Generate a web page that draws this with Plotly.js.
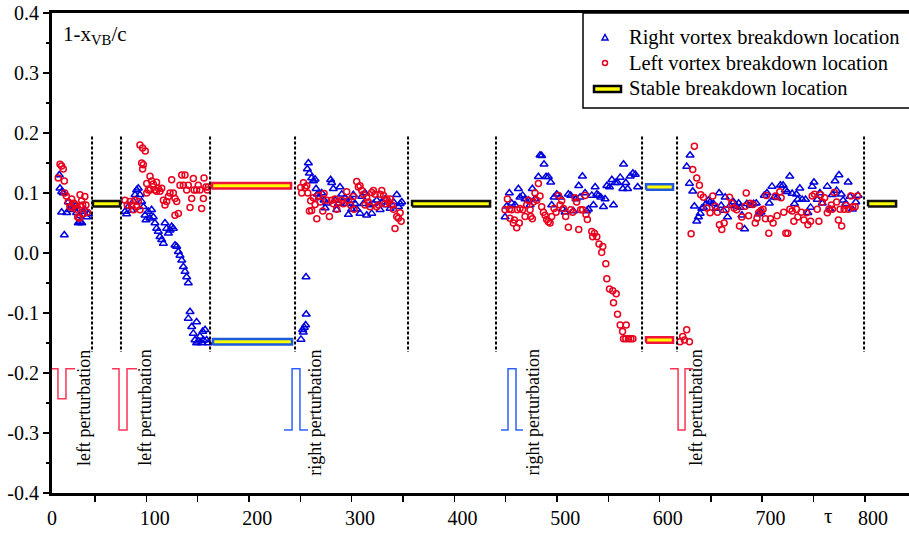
<!DOCTYPE html>
<html><head><meta charset="utf-8">
<script src="https://cdn.plot.ly/plotly-3.0.1.min.js"></script>
<style>body{margin:0;background:#fff}#chart{width:909px;height:533px}</style>
</head><body><div id="chart"></div>
<script>
// ---------- axis labels ----------
const xTickVals = [0,100,200,300,400,500,600,700,800];
const xTickText = ['0','100','200','300','400','500','600','700','800'];
const xMarkVals = [42,92,142,192,242,292,342,392,442,492,542,592,642,692,742,792];
const yTickVals = [-0.4,-0.3,-0.2,-0.1,0,0.1,0.2,0.3,0.4];
const yTickText = ['-0.4','-0.3','-0.2','-0.1','0.0','0.1','0.2','0.3','0.4'];
const legendNames = ['Right vortex breakdown location','Left vortex breakdown location','Stable breakdown location'];

// ---------- right vortex breakdown location (triangles) ----------
const rightT = [
 7.1,7.8,9.4,11,9.4,12,14.3,15.9,17.5,18.5,20.8,22.7,24,25.6,27,27.3,29,30.7,32,33.8,35.5,
 71.1,72.7,74.4,77.6,79.3,80.9,82.5,84.1,85.7,87.3,89,90.6,91.6,93.8,95.4,97,98.7,100.3,102,103.6,105.2,106.9,108.5,
 110.1,111.7,113.4,115,116.6,118.2,119.8,121.5,123.1,124.7,126.4,128,129.6,131.2,132.8,134.5,132.8,136.1,137.7,139.3,
 140.9,140.9,142.5,144.2,145.8,146.8,147.5,149.1,150.7,152.3,
 242.6,244.2,244.8,245.8,247.1,247.7,247.5,248.8,249.8,250.8,253,254.7,256.3,257.3,258.6,260.2,262.8,265.1,266.1,267.7,
 271.5,272.5,274.1,275.8,277.4,279,280.6,282.3,285.5,287.1,288.8,292,292,293.6,295.3,296.9,300.1,301.8,303.4,305,306.6,
 309.9,311.5,313.2,316.4,319.7,321.3,324.6,326.2,329.4,332.7,335.9,337.6,339.2,340.8,
 441.4,443,445.6,447.9,451.1,454.4,456,458.6,460.9,464.1,465.8,468,470.6,473.9,475.5,477.1,479.4,481.4,483.6,485.9,
 486.9,489.2,491.8,495,497.6,499.9,503.1,505.4,508,510.6,513.2,514.5,516.8,519.4,521,522.6,525.9,527.5,529.2,530.8,
 532.4,534.7,537.3,538.9,540.6,543.2,545.5,547.1,548.8,551,553.6,556.9,556.2,559.1,560.8,563.4,566,568.3,570.6,
 618.4,621.7,621.1,624.3,625.9,628.2,629.9,631.5,633.1,634.7,637.3,639.6,641.2,644.5,647.1,650,652,654.3,655.9,658.2,
 660.8,664,667.3,669,670.6,672.2,674.8,677.1,680.3,683.6,686.2,688.5,690.8,694,696.6,698.9,701.5,703.8,706.4,709.7,
 712.3,714.6,716.2,718.8,721.1,723.4,725.3,726.6,728.6,730.9,734.2,736.5,739.1,740.7,742.4,745.6,748.2,750.5,755.4,
 758,760.3,762.9,764.5,766.8,769.1,770.8,773.4,775.7,777.6,779.9,783.2,785.4
];
const rightY = [
 .130,.108,.102,.100,.068,.030,.067,.085,.072,.080,.075,.078,.067,.050,.062,.052,.050,.069,.072,.060,.065,
 .069,.065,.077,.071,.086,.097,.105,.108,.097,.086,.077,.063,.055,.069,.058,.072,.060,.050,.041,.036,.027,.022,.016,
 .050,.041,.033,.038,.044,.041,.013,.011,.002,-.004,-.012,-.023,-.031,-.040,-.050,-.098,-.109,-.123,-.134,-.145,
 -.150,-.115,-.147,-.139,-.150,-.131,-.145,-.128,-.145,-.150,
 -.144,-.128,-.132,-.124,-.120,-.102,-.040,.140,.150,.133,.125,.120,.123,.107,.098,.092,.100,.088,.075,.083,
 .122,.117,.107,.088,.072,.082,.110,.098,.092,.082,.064,.088,.073,.097,.082,.073,.066,.094,.082,.100,.063,
 .080,.066,.082,.088,.072,.085,.090,.080,.074,.085,.097,.077,.082,.085,
 .060,.078,.100,.083,.080,.107,.093,.096,.090,.088,.080,.107,.090,.127,.163,.162,.148,.127,.127,.118,
 .080,.093,.098,.093,.073,.068,.098,.096,.070,.090,.112,.093,.128,.100,.070,.073,.096,.080,.110,.098,
 .096,.093,.077,.090,.112,.110,.122,.080,.117,.117,.126,.148,.107,.117,.107,.128,.133,.131,.110,
 .144,.163,.116,.103,.078,.053,.060,.066,.074,.076,.082,.088,.085,.082,.074,.100,.079,.071,.093,.060,
 .079,.085,.077,.083,.076,.063,.040,.082,.079,.082,.083,.065,.068,.096,.100,.083,.111,.093,.092,.113,
 .113,.105,.102,.128,.099,.082,.098,.089,.108,.089,.089,.067,.076,.111,.118,.089,.100,.083,.111,
 .073,.097,.120,.104,.130,.098,.088,.082,.118,.094,.073,.085,.096
];

// ---------- left vortex breakdown location (circles) ----------
const leftT = [
 6.1,7.8,9.4,11,12,12.4,14,15.9,17.5,19.2,20.1,21.4,22.4,24,25,26.6,27.3,27.9,28.9,29.9,30.6,32,33,34.5,
 71.1,73.4,76,77.6,79.3,80.9,82.5,84.1,85.7,85.7,88.3,90.9,87.4,89,88.3,92.3,93.9,95.5,97.1,98.7,100.3,101.9,103.6,
 105.2,106.9,108.5,110.1,111.7,113.4,115,116.6,118.2,119.8,121.5,119.8,123.1,124.7,126.4,129.6,128,131.2,132.8,134.5,
 136.1,137.7,138.4,140.9,142.5,144.2,145.8,147.5,148.1,150,151.3,152.3,95.5,92.3,101.9,
 242.3,243.3,245,246.6,248.2,249.2,250.8,253,252,254.7,256.3,258,259.6,261.2,263.8,265.1,267.7,270.3,272.5,274.1,
 275.8,277.4,279,282.3,283.9,287.1,288.8,291,293.6,294.3,296.9,298.5,300.1,301.8,303.4,305,306.6,308.2,309.9,311.5,
 313.2,314.8,316.4,318.1,319.7,321.3,323,324.6,326.2,327.9,329.5,331.1,332.7,334.2,335.9,337.5,339.2,340.2,
 441.4,443.7,445.6,446.2,447.9,449.5,450.5,452.8,453.4,455.3,456,458.6,460.9,462.5,464.1,465.8,466.4,468,469,470.6,
 472.3,473.9,475.5,477.1,478.8,480.4,482,483.6,485.3,486.9,489.2,491.1,493.4,495,496.6,498.3,500.5,503.1,505.4,507.3,
 509.6,511.2,513.2,515.1,517.1,519.4,520.3,521.6,525.9,526.8,528.5,530.8,533,536.6,535.6,539.6,540.6,543.2,546.4,549.7,
 547.1,551,553.6,559.5,555.9,556.9,559.1,561.7,564,566,
 611.9,614.5,618.4,616.2,621.1,
 625.9,624.3,628.2,630.8,622.7,632.1,634.7,638,641.2,643.8,646.2,648.4,650.3,652.6,654.9,656.8,660.1,662.3,664.6,667.2,
 669.8,672.1,675.4,676.4,678.7,680.3,683,685.2,686.9,688.5,690.8,692.8,695.1,696.1,698.4,700,702.6,704.9,706.5,709.1,
 710.4,713,715,716.9,718.9,721.2,722.8,725.4,726.7,730,732.6,735.2,736.5,739.1,740.7,743,745.6,747.2,748.9,750.5,
 752.8,755.4,757,759.3,760.3,762.2,764.5,766.2,767.8,769.4,771.8,773.7,776,778.3,780.2,782.5,784.8
];
const leftY = [
 .125,.148,.145,.140,.120,.100,.095,.085,.077,.090,.075,.083,.080,.073,.060,.058,.097,.078,.087,.080,.066,.094,.080,.068,
 .088,.080,.086,.079,.072,.088,.077,.086,.072,.180,.175,.170,.150,.147,.140,.116,.105,.128,.120,.115,.105,.103,.108,
 .103,.108,.088,.080,.086,.094,.100,.122,.100,.091,.086,.063,.066,.113,.130,.130,.113,.105,.113,.076,
 .091,.124,.105,.105,.113,.105,.074,.091,.125,.110,.105,.110,.105,.100,.118,
 .109,.100,.117,.109,.112,.100,.070,.071,.087,.092,.081,.057,.096,.085,.070,.099,.088,.061,.088,.082,
 .090,.073,.085,.088,.082,.102,.088,.080,.094,.073,.119,.110,.112,.104,.098,.080,.092,.085,.077,.101,
 .104,.098,.077,.080,.098,.104,.096,.082,.090,.085,.090,.080,.073,.041,.061,.058,.067,.053,
 .072,.090,.073,.058,.072,.050,.055,.042,.072,.050,.074,.072,.061,.080,.088,.072,.061,.057,.085,.100,
 .088,.116,.095,.077,.068,.063,.056,.052,.050,.061,.074,.068,.096,.080,.087,.074,.061,.043,.072,.068,
 .092,.085,.039,.072,.072,.096,.064,.056,.036,.027,.033,.027,.015,.011,.001,-.018,-.043,-.060,-.063,-.068,
 -.083,-.102,-.120,-.120,-.131,-.143,-.143,-.143,-.143,-.143,
 -.148,-.139,-.128,-.145,-.148,
 .178,.139,.125,.113,.032,.097,.093,.075,.067,.095,.078,.068,.047,.039,.050,.072,.093,.083,.075,.072,
 .045,.060,.078,.100,.062,.083,.081,.050,.058,.067,.071,.073,.057,.096,.033,.057,.050,.095,.062,.102,
 .092,.068,.033,.033,.073,.070,.053,.073,.060,.068,.055,.067,.047,.053,.095,.098,.073,.053,.097,.085,
 .092,.067,.073,.080,.073,.101,.085,.055,.073,.045,.073,.079,.073,.095,.077,.077,.095
];

// ---------- stable breakdown locations ----------
const stableStart = [39.9, 155.9, 156.9, 350.8, 578.8, 578.8, 795.1];
const stableEnd   = [66.3, 232.9, 233.9, 426.8, 605.1, 605.1, 822.4];
const stableY     = [0.082, 0.112, -0.148, 0.082, 0.110, -0.145, 0.082];
const stableSide  = ['both','left','right','both','right','left','both'];

// ---------- phase boundaries (vertical dotted lines) ----------
const boundaryT = [39.0, 67.2, 154.0, 236.8, 346.9, 432.6, 574.9, 609.0, 791.2];
const boundaryTop = 0.194, boundaryBottom = -0.165;

// ---------- perturbation pulses ----------
const leftPulseT  = [0,5.8,5.8,13.6,13.6,22.4, null, 58.5,65.3,65.3,73.1,73.1,82.8, null, 602.2,610,610,616.8,616.8,624.6];
const leftPulseY  = [-0.193,-0.193,-0.243,-0.243,-0.193,-0.193, null, -0.193,-0.193,-0.295,-0.295,-0.193,-0.193, null, -0.193,-0.193,-0.295,-0.295,-0.193,-0.193];
const rightPulseT = [226,233.9,233.9,241.6,241.6,249.4, null, 437.5,444.3,444.3,452.1,452.1,458.9];
const rightPulseY = [-0.295,-0.295,-0.193,-0.193,-0.295,-0.295, null, -0.295,-0.295,-0.193,-0.193,-0.295,-0.295];
const perturbLabelT = [30.5, 90.6, 256.3, 468.4, 627.5];
const perturbLabelText = ['left perturbation','left perturbation','right perturbation','right perturbation','left perturbation'];
const perturbLabelTopY = -0.158;

// ---------- drawing ----------
const FONT = 'Liberation Serif, Times New Roman, serif';
const BLUE = '#0000dd', RED = '#e8001c', YELLOW = '#ffff00';
const sideColor = {both:'#111111', left:'#f0143c', right:'#1e5adc'};
const halfH = 0.0046;

const traces = [];
traces.push({
  x: rightT, y: rightY, type:'scatter', mode:'markers', name:legendNames[0], showlegend:false,
  marker:{symbol:'triangle-up-open', size:7, color:BLUE, line:{width:1.5, color:BLUE}}
});
traces.push({
  x: leftT, y: leftY, type:'scatter', mode:'markers', name:legendNames[1], showlegend:false,
  marker:{symbol:'circle-open', size:6, color:RED, line:{width:1.5, color:RED}}
});
const bx = [], by = [];
boundaryT.forEach(t => { bx.push(t, t, null); by.push(boundaryTop, boundaryBottom, null); });
traces.push({x:bx, y:by, type:'scatter', mode:'lines', showlegend:false,
  line:{color:'#000', width:2, dash:'3px,2px'}});
for (let i = 0; i < stableStart.length; i++) {
  const s = stableStart[i], e = stableEnd[i], y = stableY[i];
  traces.push({
    x:[s,e,e,s,s], y:[y-halfH,y-halfH,y+halfH,y+halfH,y-halfH], name:legendNames[2],
    type:'scatter', mode:'lines', fill:'toself', fillcolor:YELLOW, showlegend:false,
    line:{color: sideColor[stableSide[i]], width:2.5}
  });
}
traces.push({x:leftPulseT, y:leftPulseY, type:'scatter', mode:'lines', showlegend:false,
  line:{color:'#ff3355', width:1.5}});
traces.push({x:rightPulseT, y:rightPulseY, type:'scatter', mode:'lines', showlegend:false,
  line:{color:'#2f5fff', width:1.5}});

// helpers: pixel position -> paper fraction (plot area 52..909 x 13..493)
const PX = p => (p - 52) / 857;
const PY = p => (493 - p) / 480;

const annotations = perturbLabelT.map((t, i) => ({
  x:t, y:perturbLabelTopY, xref:'x', yref:'y', text:perturbLabelText[i], textangle:-90,
  showarrow:false, xanchor:'center', yanchor:'top', font:{family:FONT, size:18, color:'#000'}
}));
annotations.push({x:PX(61), y:PY(35), xref:'paper', yref:'paper', xanchor:'left', yanchor:'middle',
  text:'1-x<sub>VB</sub>/c', showarrow:false, font:{family:FONT, size:21, color:'#000'}});
annotations.push({x:PX(828), y:PY(516), xref:'paper', yref:'paper', xanchor:'center', yanchor:'middle',
  text:'τ', showarrow:false, font:{family:FONT, size:21, color:'#000'}});
// legend texts
const legendRowY = [37, 63, 88];
legendNames.forEach((n, i) => annotations.push({
  x:PX(627), y:PY(legendRowY[i]), xref:'paper', yref:'paper', xanchor:'left', yanchor:'middle',
  text:n, showarrow:false, font:{family:FONT, size:20.5, color:'#000'}
}));

const shapes = [
  // legend frame (runs off the right edge like the original)
  {type:'rect', xref:'paper', yref:'paper', x0:PX(583), x1:1.05, y0:PY(108), y1:1,
   line:{color:'#000', width:1.5}, fillcolor:'rgba(0,0,0,0)'},
  // legend icons
  {type:'path', xref:'paper', yref:'paper',
   path:`M${PX(602)},${PY(40)} L${PX(608)},${PY(40)} L${PX(605)},${PY(34.5)} Z`,
   line:{color:BLUE, width:1.5}, fillcolor:'rgba(0,0,0,0)'},
  {type:'circle', xref:'paper', yref:'paper', x0:PX(602.5), x1:PX(607.5), y0:PY(65.5), y1:PY(60.5),
   line:{color:RED, width:1.5}, fillcolor:'rgba(0,0,0,0)'},
  {type:'rect', xref:'paper', yref:'paper', x0:PX(594), x1:PX(621), y0:PY(92), y1:PY(86),
   fillcolor:YELLOW, line:{color:'#000', width:2.5}}
];

const layout = {
  width:909, height:533,
  margin:{l:52, r:0, t:13, b:40, pad:0},
  paper_bgcolor:'#fff', plot_bgcolor:'#fff',
  font:{family:FONT, size:20, color:'#000'},
  showlegend:false,
  xaxis:{range:[0,835], showgrid:false, zeroline:false, showline:true, linecolor:'#000', linewidth:3,
    mirror:true, tickmode:'array', tickvals:xTickVals, ticktext:xTickText, ticks:'',
    ticklabelstandoff:5, tickfont:{family:FONT, size:20, color:'#000'},
    minor:{tickmode:'array', tickvals:xMarkVals, ticks:'outside', ticklen:6, tickwidth:1.5, tickcolor:'#000', showgrid:false}},
  yaxis:{range:[-0.4,0.4], showgrid:false, zeroline:false, showline:true, linecolor:'#000', linewidth:3,
    tickmode:'array', tickvals:yTickVals, ticktext:yTickText, ticks:'outside', ticklen:6, tickwidth:1.5, tickcolor:'#000',
    tickfont:{family:FONT, size:20, color:'#000'},
    minor:{dtick:0.05, tick0:0, ticks:'outside', ticklen:3, tickwidth:1.5, tickcolor:'#000', showgrid:false}},
  shapes:shapes,
  annotations:annotations
};
Plotly.newPlot('chart', traces, layout, {staticPlot:true, displayModeBar:false});
</script></body></html>
